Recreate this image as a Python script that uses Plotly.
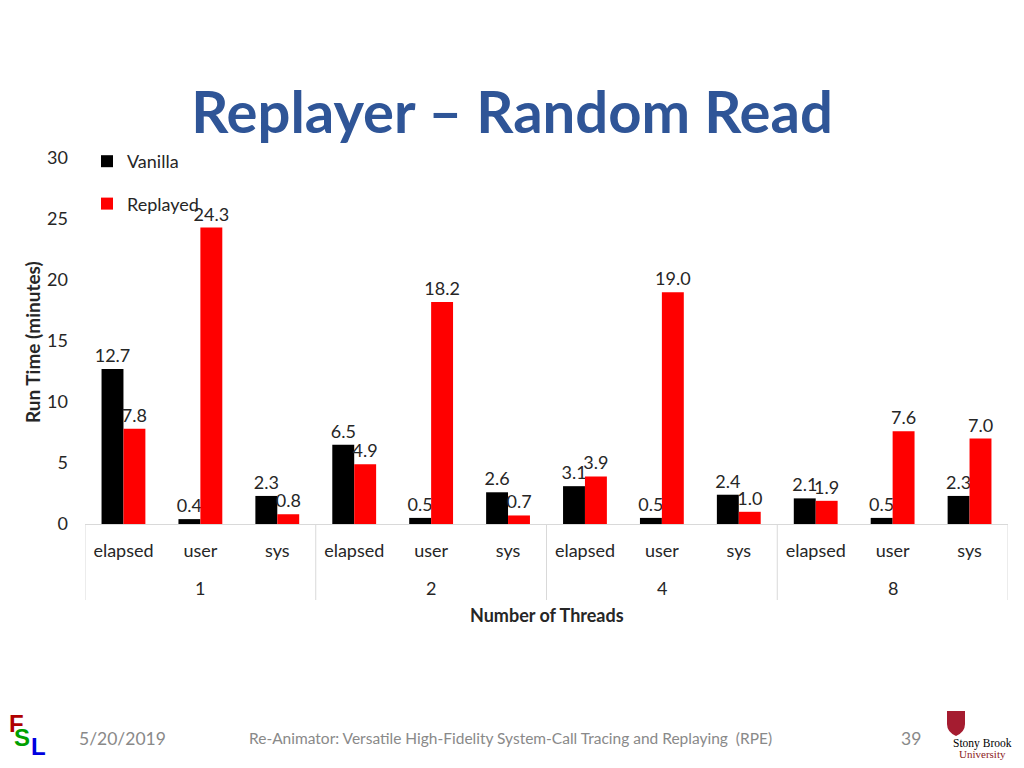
import plotly.graph_objects as go

thread_counts = ["1", "2", "4", "8"]
metrics = ["elapsed", "user", "sys"]
vanilla = [12.7, 0.4, 2.3, 6.5, 0.5, 2.6, 3.1, 0.5, 2.4, 2.1, 0.5, 2.3]
replayed = [7.8, 24.3, 0.8, 4.9, 18.2, 0.7, 3.9, 19.0, 1.0, 1.9, 7.6, 7.0]
y_ticks = [0, 5, 10, 15, 20, 25, 30]

n_m = len(metrics)
x_pos = list(range(len(thread_counts) * n_m))
x_text = [m for _ in thread_counts for m in metrics]

FONT = "Lato"
TXT = "#262626"
OFF = 8                      # browser body margin
W, H = 1024 - 2 * OFF, 768 - 2 * OFF
L, R, T, B = 85, 1008, 158, 524   # plot area in page pixels


def px(x):
    return (x - L) / (R - L)


def py(y):
    return (B - y) / (B - T)


fig = go.Figure()
for name, vals, col, grp in [("Vanilla", vanilla, "#000000", "a"),
                             ("Replayed", replayed, "#FF0000", "b")]:
    fig.add_trace(go.Bar(
        name=name, x=x_pos, y=vals,
        marker=dict(color=col, line=dict(width=0)),
        texttemplate="%{y:.1f}", textposition="outside",
        constraintext="none",
        textfont=dict(size=18, color=TXT, family=FONT),
        cliponaxis=False, legendgroup=grp,
    ))

fig.update_layout(
    width=W, height=H,
    margin=dict(l=L - OFF, r=W + OFF - R, t=T - OFF, b=H + OFF - B, autoexpand=False),
    paper_bgcolor="white", plot_bgcolor="white",
    barmode="group", bargap=0.43, bargroupgap=0,
    font=dict(family=FONT, size=18, color=TXT),
    showlegend=True,
    legend=dict(x=px(87), y=py(143), xanchor="left", yanchor="top",
                bgcolor="rgba(0,0,0,0)", font=dict(size=18, color=TXT),
                tracegroupgap=16, itemwidth=30),
    title=dict(text="<b>Replayer – Random Read</b>", x=0.5, xanchor="center",
               y=1 - (113 - OFF) / H, yanchor="middle",
               font=dict(family=FONT, size=58, color="#2F5597")),
)

fig.update_xaxes(
    range=[-0.5, len(x_pos) - 0.5],
    tickvals=x_pos, ticktext=x_text,
    showline=True, linecolor="#D9D9D9", linewidth=1,
    showgrid=False, zeroline=False, ticks="",
    ticklabelstandoff=10,
    tickfont=dict(size=18, color=TXT),
)
fig.update_yaxes(
    range=[0, 30], tickvals=y_ticks, showgrid=False, zeroline=False,
    showline=False, ticks="", tickfont=dict(size=18, color=TXT),
    ticklabelstandoff=16,
)

# group dividers and outer category labels
for i in range(len(thread_counts) + 1):
    fig.add_shape(type="line", xref="x", yref="paper",
                  x0=i * n_m - 0.5, x1=i * n_m - 0.5, y0=0, y1=py(600),
                  line=dict(color="#D9D9D9", width=1))
for i, t in enumerate(thread_counts):
    fig.add_annotation(text=t, x=i * n_m + (n_m - 1) / 2, xref="x",
                       y=py(588), yref="paper", showarrow=False,
                       xanchor="center", yanchor="middle",
                       font=dict(size=18, color=TXT, family=FONT))

# axis titles
fig.add_annotation(text="<b>Number of Threads</b>", x=0.5, y=py(615), xref="paper", yref="paper",
                   showarrow=False, xanchor="center", yanchor="middle",
                   font=dict(size=18, color=TXT, family=FONT))
fig.add_annotation(text="<b>Run Time (minutes)</b>", x=px(32), y=py(342), xref="paper", yref="paper",
                   showarrow=False, xanchor="center", yanchor="middle", textangle=-90,
                   font=dict(size=19, color=TXT, family=FONT))

# Footer
fig.add_annotation(text="5/20/2019", x=px(122), y=py(738), xref="paper", yref="paper",
                   xanchor="center", yanchor="middle", showarrow=False,
                   font=dict(size=17.5, color="#898989", family=FONT))
fig.add_annotation(text="Re-Animator: Versatile High-Fidelity System-Call Tracing and Replaying  (RPE)",
                   x=px(510), y=py(738), xref="paper", yref="paper",
                   xanchor="center", yanchor="middle", showarrow=False,
                   font=dict(size=15.5, color="#898989", family=FONT))
fig.add_annotation(text="39", x=px(911), y=py(738), xref="paper", yref="paper",
                   xanchor="center", yanchor="middle", showarrow=False,
                   font=dict(size=17.5, color="#898989", family=FONT))

# FSL logo
for ch, cx, cy, col in [("F", 16, 723, "#B00000"), ("S", 22, 737, "#00A000"), ("L", 38, 746, "#0000E0")]:
    fig.add_annotation(text="<b>" + ch + "</b>", x=px(cx), y=py(cy), xref="paper", yref="paper",
                       xanchor="center", yanchor="middle", showarrow=False,
                       font=dict(size=24, color=col, family="Liberation Sans"))

# Stony Brook logo
shield = (f"M {px(947)} {py(711)} L {px(965)} {py(711)} L {px(965)} {py(724)} "
          f"Q {px(965)} {py(732)} {px(956)} {py(736)} Q {px(947)} {py(732)} {px(947)} {py(724)} Z")
fig.add_shape(type="path", path=shield, xref="paper", yref="paper",
              fillcolor="#A51C30", line=dict(width=0))
fig.add_annotation(text="Stony Brook", x=px(982), y=py(743), xref="paper", yref="paper",
                   xanchor="center", yanchor="middle", showarrow=False,
                   font=dict(size=11.5, color="#000000", family="Liberation Serif"))
fig.add_annotation(text="University", x=px(982), y=py(754), xref="paper", yref="paper",
                   xanchor="center", yanchor="middle", showarrow=False,
                   font=dict(size=11, color="#8B1A1A", family="Liberation Serif"))

fig.write_html("out.html")
